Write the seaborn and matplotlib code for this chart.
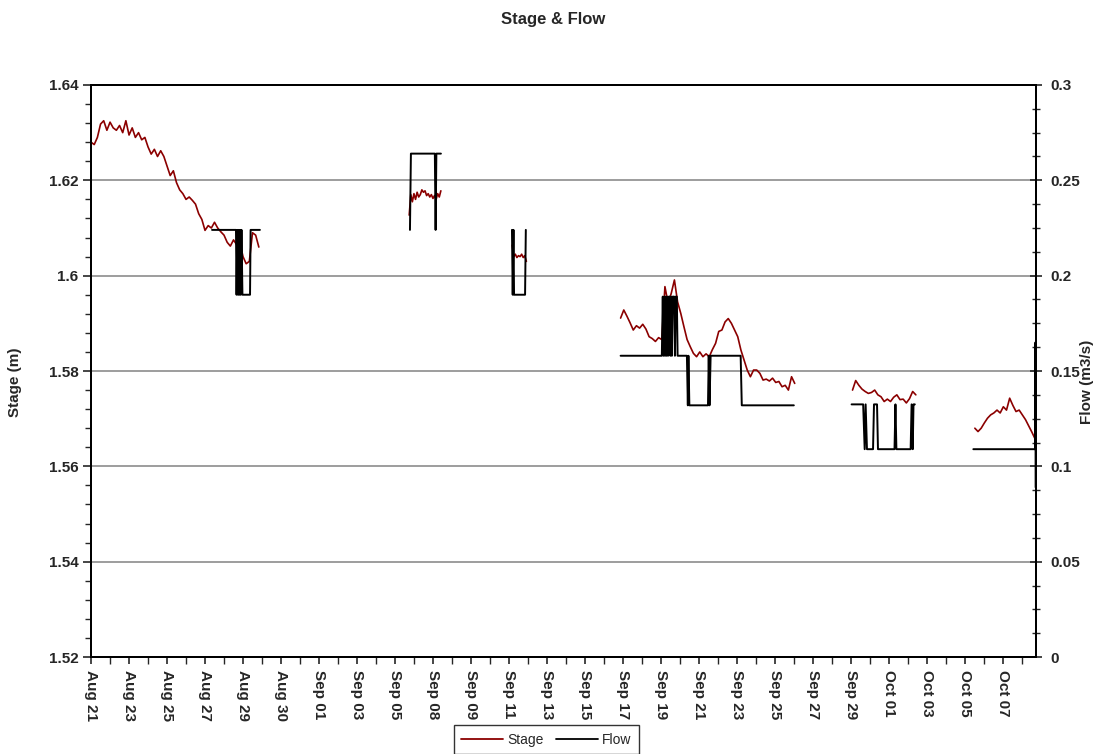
import pandas as pd
import seaborn as sns
import matplotlib.pyplot as plt
from matplotlib.ticker import MultipleLocator, AutoMinorLocator, FixedLocator
from matplotlib.lines import Line2D

# x values are days after Aug 21 00:00
tick_labels = ['Aug 21', 'Aug 23', 'Aug 25', 'Aug 27', 'Aug 29', 'Aug 30', 'Sep 01',
               'Sep 03', 'Sep 05', 'Sep 08', 'Sep 09', 'Sep 11', 'Sep 13', 'Sep 15',
               'Sep 17', 'Sep 19', 'Sep 21', 'Sep 23', 'Sep 25', 'Sep 27', 'Sep 29',
               'Oct 01', 'Oct 03', 'Oct 05', 'Oct 07']

# stage (m), regular samples: start day, step (days), values
stage1_start, stage1_step = 0.0, 1 / 6
stage1 = [1.6280, 1.6275, 1.6290, 1.6318, 1.6325, 1.6305, 1.6322, 1.6310, 1.6305, 1.6315,
          1.6300, 1.6325, 1.6295, 1.6310, 1.6290, 1.6300, 1.6285, 1.6290, 1.6270, 1.6255,
          1.6265, 1.6250, 1.6262, 1.6250, 1.6230, 1.6210, 1.6220, 1.6195, 1.6180, 1.6172,
          1.6160, 1.6165, 1.6158, 1.6150, 1.6130, 1.6118, 1.6095, 1.6105, 1.6100, 1.6112,
          1.6100, 1.6092, 1.6085, 1.6070, 1.6062, 1.6075, 1.6065, 1.6070, 1.6040, 1.6025,
          1.6030, 1.6090, 1.6085, 1.6060]

stage2_start, stage2_step = 16.75, 1 / 12
stage2 = [1.6127, 1.6170, 1.6155, 1.6172, 1.6160, 1.6175, 1.6165, 1.6170, 1.6180, 1.6175,
          1.6178, 1.6168, 1.6172, 1.6165, 1.6170, 1.6162, 1.6168, 1.6160, 1.6172, 1.6165,
          1.6178]

stage3_start, stage3_step = 22.17, 1 / 12
stage3 = [1.6064, 1.6040, 1.6045, 1.6038, 1.6042, 1.6040, 1.6045, 1.6038, 1.6042, 1.6030]

stage4_start, stage4_step = 27.88, 1 / 6
stage4 = [1.5911, 1.5928, 1.5915, 1.5901, 1.5886, 1.5895, 1.5890, 1.5898, 1.5888, 1.5872,
          1.5868, 1.5862, 1.5870, 1.5866, 1.5977, 1.5942, 1.5963, 1.5991, 1.5945, 1.5921,
          1.5893, 1.5866, 1.5851, 1.5837, 1.5830, 1.5840, 1.5830, 1.5836, 1.5830, 1.5845,
          1.5858, 1.5883, 1.5886, 1.5903, 1.5910, 1.5900, 1.5886, 1.5872, 1.5844, 1.5823,
          1.5802, 1.5788, 1.5802, 1.5802, 1.5795, 1.5781, 1.5783, 1.5779, 1.5785, 1.5776,
          1.5778, 1.5767, 1.5770, 1.5760, 1.5788, 1.5774]

stage5_start, stage5_step = 40.09, 1 / 6
stage5 = [1.5760, 1.5780, 1.5770, 1.5762, 1.5757, 1.5753, 1.5755, 1.5760, 1.5750, 1.5746,
          1.5736, 1.5741, 1.5736, 1.5745, 1.5750, 1.5740, 1.5741, 1.5733, 1.5742, 1.5757,
          1.5750]

stage6_start, stage6_step = 46.53, 1 / 6
stage6 = [1.5680, 1.5673, 1.5680, 1.5691, 1.5701, 1.5708, 1.5712, 1.5718, 1.5712, 1.5725,
          1.5718, 1.5743, 1.5728, 1.5715, 1.5718, 1.5708, 1.5698, 1.5685, 1.5672, 1.5658,
          1.5650]

# flow (m3/s), logged points: (day, value)
flow1_day = [6.37, 7.63, 7.66, 7.70, 7.74, 7.77, 7.81, 7.84, 7.88, 7.92, 7.97, 8.37, 8.40, 8.89]
flow1 = [0.224, 0.224, 0.19, 0.224, 0.19, 0.224, 0.19, 0.224, 0.19, 0.224, 0.19, 0.19, 0.224, 0.224]

flow2_day = [16.79, 16.84, 18.10, 18.14, 18.18, 18.42]
flow2 = [0.224, 0.264, 0.264, 0.224, 0.264, 0.264]

flow3_day = [22.16, 22.20, 22.24, 22.27, 22.85, 22.89]
flow3 = [0.224, 0.19, 0.224, 0.19, 0.19, 0.224]

flow4_day = [27.88, 30.05, 30.10, 30.14, 30.18, 30.22, 30.26, 30.30, 30.34, 30.38, 30.42,
             30.47, 30.50, 30.54, 30.58, 30.62, 30.70, 30.74, 30.78, 30.84, 30.88, 31.37,
             31.42, 31.45, 31.50, 32.48, 32.52, 32.56, 32.62, 34.20, 34.26, 37.0]
flow4 = [0.158, 0.158, 0.189, 0.158, 0.189, 0.158, 0.189, 0.158, 0.189, 0.158, 0.189,
         0.189, 0.158, 0.189, 0.158, 0.189, 0.189, 0.158, 0.189, 0.189, 0.158, 0.158,
         0.132, 0.158, 0.132, 0.132, 0.158, 0.132, 0.158, 0.158, 0.132, 0.132]

flow5_day = [40.04, 40.65, 40.73, 40.78, 40.85, 41.17, 41.22, 41.38, 41.43, 42.30, 42.35,
             42.40, 43.15, 43.20, 43.26, 43.30, 43.37]
flow5 = [0.1325, 0.1325, 0.109, 0.1325, 0.109, 0.109, 0.1325, 0.1325, 0.109, 0.109, 0.1325,
         0.109, 0.109, 0.1325, 0.109, 0.1325, 0.1325]

flow6_day = [46.45, 49.71, 49.72, 49.73]
flow6 = [0.109, 0.109, 0.165, 0.089]

# build long tables, one unit per logged block
stage_rows = []
for seg, (start, step, vals) in enumerate([(stage1_start, stage1_step, stage1),
                                           (stage2_start, stage2_step, stage2),
                                           (stage3_start, stage3_step, stage3),
                                           (stage4_start, stage4_step, stage4),
                                           (stage5_start, stage5_step, stage5),
                                           (stage6_start, stage6_step, stage6)]):
    for i, v in enumerate(vals):
        stage_rows.append({'day': start + i * step, 'stage': v, 'seg': seg})
stage_df = pd.DataFrame(stage_rows)

flow_rows = []
for seg, (days, vals) in enumerate([(flow1_day, flow1), (flow2_day, flow2), (flow3_day, flow3),
                                    (flow4_day, flow4), (flow5_day, flow5), (flow6_day, flow6)]):
    for d, v in zip(days, vals):
        flow_rows.append({'day': d, 'flow': v, 'seg': seg})
flow_df = pd.DataFrame(flow_rows)

sns.set_style("white")
plt.rcParams['font.family'] = ['Liberation Sans', 'DejaVu Sans']

fig = plt.figure(figsize=(10.97, 7.54), dpi=100)
ax = fig.add_axes([0.083, 0.1286, 0.8614, 0.7587])
ax2 = ax.twinx()

stage_color = '#8b0000'
sns.lineplot(data=stage_df, x='day', y='stage', units='seg', estimator=None, sort=False,
             color=stage_color, linewidth=1.2, ax=ax, legend=False)
sns.lineplot(data=flow_df, x='day', y='flow', units='seg', estimator=None, sort=False,
             color='black', linewidth=1.4, ax=ax2, legend=False)

ax.set_xlim(0, 49.75)
ax.set_ylim(1.52, 1.64)
ax2.set_ylim(0, 0.3)

ax.yaxis.set_minor_locator(AutoMinorLocator(5))
ax.set_yticks([1.52, 1.54, 1.56, 1.58, 1.60, 1.62, 1.64])
ax.set_yticklabels(['1.52', '1.54', '1.56', '1.58', '1.6', '1.62', '1.64'],
                   fontsize=11, fontweight='bold')
ax.grid(axis='y', which='major', color='#8c8c8c', linewidth=1.2)
ax.set_axisbelow(True)

ax2.set_yticks([0, 0.05, 0.1, 0.15, 0.2, 0.25, 0.3])
ax2.set_yticklabels(['0', '0.05', '0.1', '0.15', '0.2', '0.25', '0.3'],
                    fontsize=11, fontweight='bold')
ax2.yaxis.set_minor_locator(AutoMinorLocator(4))

major_days = [2 * k for k in range(len(tick_labels))]
ax.xaxis.set_major_locator(FixedLocator(major_days))
ax.xaxis.set_minor_locator(MultipleLocator(1))
ax.set_xticklabels(tick_labels, rotation=270, fontsize=11, fontweight='bold')

ax.tick_params(axis='y', which='major', direction='out', length=6, width=1.2, left=True, pad=3)
ax.tick_params(axis='y', which='minor', direction='out', length=4, width=1.0, left=True)
ax.tick_params(axis='x', which='major', direction='out', length=5, width=1.2, bottom=True, pad=4)
ax.tick_params(axis='x', which='minor', direction='out', length=5, width=1.0, bottom=True)
ax2.tick_params(axis='y', which='major', direction='inout', length=8, width=1.2, right=True, pad=6)
ax2.tick_params(axis='y', which='minor', direction='inout', length=6, width=1.0, right=True)

for a in (ax, ax2):
    a.set_xlabel('')
    a.set_ylabel('')
    for s in a.spines.values():
        s.set_color('black')
        s.set_linewidth(1.4)

fig.text(0.504, 0.9735, 'Stage & Flow', ha='center', va='center', fontsize=12, fontweight='bold')
fig.text(0.014, 0.493, 'Stage (m)', ha='center', va='center', rotation=90,
         fontsize=11, fontweight='bold')
fig.text(0.991, 0.493, 'Flow (m3/s)', ha='center', va='center', rotation=90,
         fontsize=11, fontweight='bold')

handles = [Line2D([], [], color=stage_color, linewidth=1.3),
           Line2D([], [], color='black', linewidth=1.3)]
leg = fig.legend(handles, ['Stage', 'Flow'], loc='upper center', bbox_to_anchor=(0.498, 0.0385),
                 borderaxespad=0, ncol=2, frameon=True, fancybox=False, fontsize=10,
                 handlelength=3.0, handletextpad=0.3, columnspacing=0.9, borderpad=0.55)
leg.get_frame().set_edgecolor('black')
leg.get_frame().set_linewidth(1.0)

fig.savefig('out.png', dpi=100)
